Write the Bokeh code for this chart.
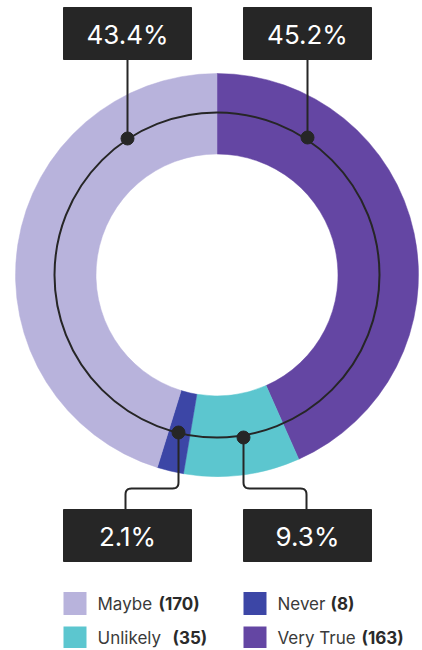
import math
from bokeh.plotting import figure
from bokeh.models import Range1d
from bokeh.core.properties import value
from bokeh.embed import file_html
from bokeh.resources import INLINE

# ---- data ----
categories = ["Maybe", "Never", "Unlikely", "Very True"]
counts = [170, 8, 35, 163]
colors = ["#b8b3dc", "#3c46a6", "#5cc6cf", "#6446a3"]
# clockwise order of slices starting at 12 o'clock
clockwise_order = ["Very True", "Unlikely", "Never", "Maybe"]
# percentage call-out texts as printed on the chart
label_texts = ["43.4%", "45.2%", "2.1%", "9.3%"]

FONT = "Inter"
DARK = "#262626"
H = 650  # image height, data y = H - pixel y

W_PX, H_PX = 420, 648
p = figure(width=W_PX, height=H_PX, output_backend="svg", toolbar_location=None,
           x_range=Range1d(0, W_PX), y_range=Range1d(H - H_PX, H),
           min_border=0, outline_line_color=None)
p.axis.visible = False
p.grid.visible = False
p.background_fill_color = "white"
p.border_fill_color = "white"

def Y(y):
    return H - y

cx, cy = 216.5, Y(274.5)
r_out, r_in, r_ring = 201.5, 121.0, 162.5

total = sum(counts)
start = math.pi / 2
for name in clockwise_order:
    i = categories.index(name)
    ang = counts[i] / total * 2 * math.pi
    end = start - ang
    p.annular_wedge(x=cx, y=cy, inner_radius=r_in, outer_radius=r_out,
                    start_angle=start, end_angle=end, direction="clock",
                    fill_color=colors[i], line_color=colors[i], line_width=0.5)
    start = end

# ring
p.circle(x=cx, y=cy, radius=r_ring, fill_color=None, line_color=DARK, line_width=2)

# rounded path helper
def rounded_path(pts, rad=6, n=6):
    xs, ys = [pts[0][0]], [pts[0][1]]
    for k in range(1, len(pts) - 1):
        (x0, y0), (x1, y1), (x2, y2) = pts[k - 1], pts[k], pts[k + 1]
        d1 = math.hypot(x1 - x0, y1 - y0); d2 = math.hypot(x2 - x1, y2 - y1)
        ax, ay = x1 - (x1 - x0) / d1 * rad, y1 - (y1 - y0) / d1 * rad
        bx, by = x1 + (x2 - x1) / d2 * rad, y1 + (y2 - y1) / d2 * rad
        for t in [j / n for j in range(n + 1)]:
            xs.append((1 - t) ** 2 * ax + 2 * (1 - t) * t * x1 + t * t * bx)
            ys.append((1 - t) ** 2 * ay + 2 * (1 - t) * t * y1 + t * t * by)
    xs.append(pts[-1][0]); ys.append(pts[-1][1])
    return xs, ys

# call-out layout (pixel coords)
boxes = [(63, 191, 7, 59), (243, 371, 7, 59), (63, 191, 509, 561), (243, 371, 509, 561)]
dots = [(127, 138), (307, 137), (178, 432), (243, 437)]
paths = [
    [(127, 59), (127, 138)],
    [(307, 59), (307, 137)],
    [(178, 432), (178, 488), (125, 488), (125, 509)],
    [(243, 437), (243, 488), (306, 488), (306, 509)],
]

for path in paths:
    pts = [(x, Y(y)) for x, y in path]
    xs, ys = rounded_path(pts) if len(pts) > 2 else ([q[0] for q in pts], [q[1] for q in pts])
    p.line(xs, ys, line_color=DARK, line_width=2)

p.scatter(x=[d[0] for d in dots], y=[Y(d[1]) for d in dots], size=13,
          fill_color=DARK, line_color=DARK)

p.quad(left=[b[0] for b in boxes], right=[b[1] for b in boxes],
       top=[Y(b[2]) for b in boxes], bottom=[Y(b[3]) for b in boxes],
       fill_color=DARK, line_color=DARK)
p.text(x=[(b[0] + b[1]) / 2 for b in boxes], y=[Y((b[2] + b[3]) / 2 + 1) for b in boxes],
       text=label_texts, text_color="white", text_font=value(FONT),
       text_font_size="26px", text_align="center", text_baseline="middle")

# legend
leg_pos = {"Maybe": (63, 603), "Never": (243, 603), "Unlikely": (63, 637.5), "Very True": (243, 637.5)}
count_offset = {"Maybe": 61, "Never": 53, "Unlikely": 75, "Very True": 84}
for name in categories:
    i = categories.index(name)
    lx, ly = leg_pos[name]
    p.quad(left=lx, right=lx + 23, top=Y(ly - 11.5), bottom=Y(ly + 11.5),
           fill_color=colors[i], line_color=None)
    p.text(x=[lx + 34], y=[Y(ly)], text=[name], text_color="#3a3a3a",
           text_font=value(FONT), text_font_size="17px", text_baseline="middle")
    p.text(x=[lx + 34 + count_offset[name]], y=[Y(ly)], text=[f"({counts[i]})"],
           text_color="#2a2a2a", text_font=value(FONT), text_font_size="17px",
           text_font_style="bold", text_baseline="middle")

open("out.html", "w").write(file_html(p, INLINE))
